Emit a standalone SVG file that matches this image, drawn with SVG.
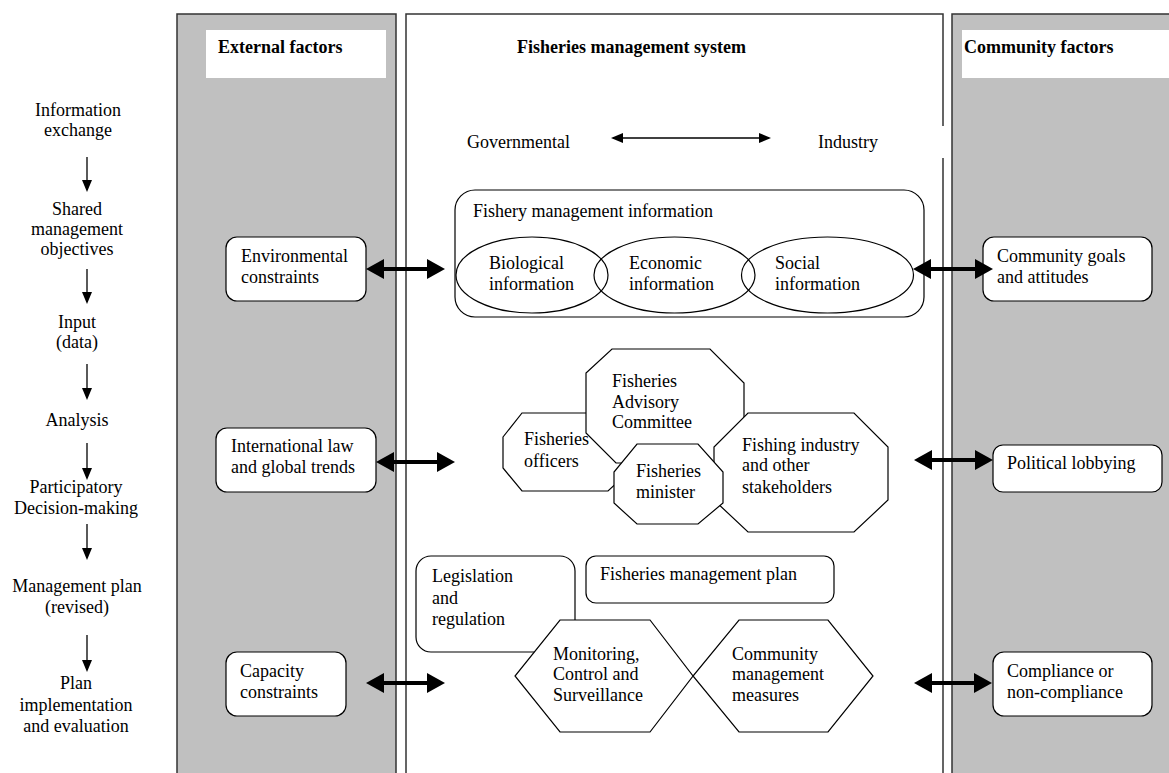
<svg xmlns="http://www.w3.org/2000/svg" width="1169" height="773" viewBox="0 0 1169 773" font-family="Liberation Serif, Times New Roman, serif">
<style>
text{font-family:"Liberation Serif","Times New Roman",serif;font-size:18px;fill:#000}
.b{font-weight:bold}
.m{text-anchor:middle}
.node{fill:#fff;stroke:#000;stroke-width:1.2}
.ell{fill:none;stroke:#000;stroke-width:1.2}
.panel{stroke:#333;stroke-width:1.5}
.thick{stroke:#000;stroke-width:4;marker-start:url(#th);marker-end:url(#th)}
.thin{stroke:#000;stroke-width:1.3;marker-end:url(#tn)}
.thin2{stroke:#000;stroke-width:1.3;marker-start:url(#tn);marker-end:url(#tn)}
</style>
<defs>
<marker id="th" markerUnits="userSpaceOnUse" markerWidth="18" markerHeight="20" viewBox="0 0 18 20" refX="14" refY="10" orient="auto-start-reverse"><path d="M0,0 L18,10 L0,20 z" fill="#000"/></marker>
<marker id="tn" markerUnits="userSpaceOnUse" markerWidth="12" markerHeight="10" viewBox="0 0 12 10" refX="10" refY="5" orient="auto-start-reverse"><path d="M0,0 L12,5 L0,10 z" fill="#000"/></marker>
</defs>
<rect width="1169" height="773" fill="#fff"/>

<g id="panels">
<rect class="panel" x="177" y="14" width="219" height="770" fill="#c0c0c0"/>
<rect x="406" y="14" width="537" height="770" fill="#fff"/>
<path class="panel" fill="none" d="M406,780 V14 H943 V126 M943,158 V780"/>
<rect class="panel" x="952" y="14" width="230" height="770" fill="#c0c0c0"/>
<rect x="206" y="30" width="180" height="48" fill="#fff"/>
<rect x="962" y="30" width="215" height="48" fill="#fff"/>
<text class="b" x="218" y="53">External factors</text>
<text class="b" x="517" y="53">Fisheries management system</text>
<text class="b" x="964" y="53">Community factors</text>
</g>

<g id="process">
<text class="m" x="78" y="116">Information</text>
<text class="m" x="78" y="136">exchange</text>
<text class="m" x="77" y="215">Shared</text>
<text class="m" x="77" y="235">management</text>
<text class="m" x="77" y="255">objectives</text>
<text class="m" x="77" y="328">Input</text>
<text class="m" x="77" y="348">(data)</text>
<text class="m" x="77" y="426">Analysis</text>
<text class="m" x="76" y="493">Participatory</text>
<text class="m" x="76" y="514">Decision-making</text>
<text class="m" x="77" y="592">Management plan</text>
<text class="m" x="77" y="613">(revised)</text>
<text class="m" x="76" y="689">Plan</text>
<text class="m" x="76" y="711">implementation</text>
<text class="m" x="76" y="732">and evaluation</text>
</g>

<g id="governmental"><text x="467" y="148">Governmental</text></g>
<g id="industry"><text x="818" y="148">Industry</text></g>

<g id="env">
<rect class="node" x="226" y="237" width="140" height="64" rx="11"/>
<text x="241" y="262">Environmental</text>
<text x="241" y="283">constraints</text>
</g>
<g id="intl">
<rect class="node" x="216" y="428" width="160" height="64" rx="11"/>
<text x="231" y="452">International law</text>
<text x="231" y="473">and global trends</text>
</g>
<g id="capacity">
<rect class="node" x="226" y="652" width="120" height="64" rx="11"/>
<text x="240" y="677">Capacity</text>
<text x="240" y="698">constraints</text>
</g>

<g id="goals">
<rect class="node" x="983" y="237" width="169" height="64" rx="11"/>
<text x="997" y="262">Community goals</text>
<text x="997" y="283">and attitudes</text>
</g>
<g id="lobbying">
<rect class="node" x="993" y="445" width="169" height="47" rx="10"/>
<text x="1007" y="469">Political lobbying</text>
</g>
<g id="compliance">
<rect class="node" x="993" y="652" width="159" height="64" rx="11"/>
<text x="1007" y="677">Compliance or</text>
<text x="1007" y="698">non-compliance</text>
</g>

<g id="info">
<rect class="node" x="455" y="190" width="469" height="127" rx="20"/>
<text x="473" y="217">Fishery management information</text>
</g>
<g id="biological">
<ellipse class="ell" cx="532" cy="275" rx="76" ry="38"/>
<text x="489" y="269">Biological</text>
<text x="489" y="290">information</text>
</g>
<g id="economic">
<ellipse class="ell" cx="674.5" cy="275" rx="80.5" ry="38"/>
<text x="629" y="269">Economic</text>
<text x="629" y="290">information</text>
</g>
<g id="social">
<ellipse class="ell" cx="827.5" cy="275" rx="86" ry="38"/>
<text x="775" y="269">Social</text>
<text x="775" y="290">information</text>
</g>

<g id="officers">
<polygon class="node" points="503,437 522,413 610,413 633,437 633,468 608,491 522,491 503,468"/>
<text x="524" y="445">Fisheries</text>
<text x="524" y="467">officers</text>
</g>
<g id="advisory">
<polygon class="node" points="612,349 710,349 744,383 744,437 718,463 616,463 586,433 586,373"/>
<text x="612" y="387">Fisheries</text>
<text x="612" y="408">Advisory</text>
<text x="612" y="428">Committee</text>
</g>
<g id="fishing-industry">
<polygon class="node" points="748,413 854,413 888,447 888,500 854,532 748,532 714,500 714,447"/>
<text x="742" y="451">Fishing industry</text>
<text x="742" y="471">and other</text>
<text x="742" y="493">stakeholders</text>
</g>
<g id="minister">
<polygon class="node" points="637,444 698,444 723,472 723,503 698,524 637,524 614,503 614,472"/>
<text x="636" y="477">Fisheries</text>
<text x="636" y="498">minister</text>
</g>

<g id="legislation">
<rect class="node" x="416" y="556" width="159" height="96" rx="15"/>
<text x="432" y="582">Legislation</text>
<text x="432" y="604">and</text>
<text x="432" y="625">regulation</text>
</g>
<g id="plan">
<rect class="node" x="586" y="556" width="248" height="47" rx="10"/>
<text x="600" y="580">Fisheries management plan</text>
</g>
<g id="mcs">
<polygon class="node" points="560,620 650,620 693,676 650,732 560,732 515,676"/>
<text x="553" y="660">Monitoring,</text>
<text x="553" y="680">Control and</text>
<text x="553" y="701">Surveillance</text>
</g>
<g id="cmm">
<polygon class="node" points="739,620 828,620 873,676 828,732 739,732 693,676"/>
<text x="732" y="660">Community</text>
<text x="732" y="680">management</text>
<text x="732" y="701">measures</text>
</g>

<g id="connectors">
<line class="thin" x1="87" y1="157" x2="87" y2="190"/>
<line class="thin" x1="87" y1="269" x2="87" y2="302"/>
<line class="thin" x1="87" y1="364" x2="87" y2="398"/>
<line class="thin" x1="87" y1="443" x2="87" y2="478"/>
<line class="thin" x1="87" y1="524" x2="87" y2="558"/>
<line class="thin" x1="87" y1="635" x2="87" y2="670"/>
<line class="thin2" x1="613" y1="138" x2="769" y2="138"/>
<line class="thick" x1="370" y1="269" x2="441" y2="269"/>
<line class="thick" x1="380" y1="462" x2="451" y2="462"/>
<line class="thick" x1="370" y1="683" x2="441" y2="683"/>
<line class="thick" x1="917" y1="269" x2="989" y2="269"/>
<line class="thick" x1="918" y1="460" x2="989" y2="460"/>
<line class="thick" x1="918" y1="683" x2="988" y2="683"/>
</g>
</svg>
